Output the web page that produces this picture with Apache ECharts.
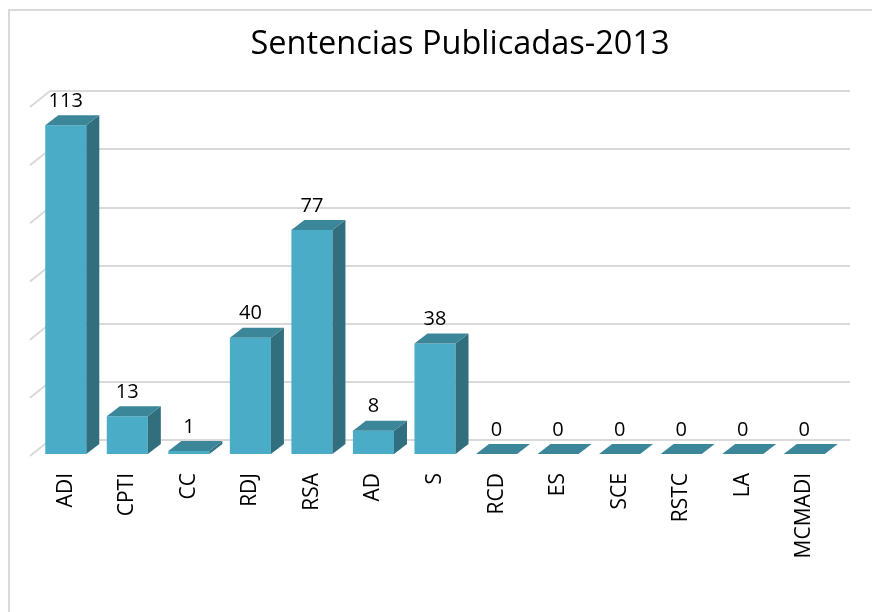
<!DOCTYPE html>
<html>
<head>
<meta charset="utf-8">
<script src="https://cdn.jsdelivr.net/npm/echarts@6/dist/echarts.min.js"></script>
<style>
  html, body { margin: 0; padding: 0; background: #fff; }
  #chart { width: 872px; height: 612px; }
</style>
</head>
<body>
<div id="chart"></div>
<script>
// Sentencias publicadas 2013 - barras 3D estilo Excel
const categories = ['ADI', 'CPTI', 'CC', 'RDJ', 'RSA', 'AD', 'S', 'RCD', 'ES', 'SCE', 'RSTC', 'LA', 'MCMADI'];
const sentencias = [113, 13, 1, 40, 77, 8, 38, 0, 0, 0, 0, 0, 0];
const wallTicks = [0, 20, 40, 60, 80, 100, 120];

const FONT = '"Open Sans", "Noto Sans", sans-serif';
const FRONT = '#4aacc6';
const SIDE = '#316e7e';
const TOP = '#3b8698';
const GRID_LINE = '#d9d9d9';

// bar front face sits in front of the back wall
const FRONT_DX = -15, FRONT_DY = 14;
// bar depth (front -> back)
const DEPTH_DX = 13, DEPTH_DY = -10;

function renderBar(params, api) {
  const v = api.value(1);
  const top = api.coord([api.value(0), v]);
  const base = api.coord([api.value(0), 0]);
  const bw = api.size([1, 0])[0] * 0.667;
  const cx = top[0] + FRONT_DX;
  const yTop = top[1] + FRONT_DY;
  const yBase = base[1] + FRONT_DY;
  const x0 = cx - bw / 2, x1 = cx + bw / 2;
  return {
    type: 'group',
    children: [
      { type: 'rect', shape: { x: x0, y: yTop, width: bw, height: yBase - yTop }, style: { fill: FRONT } },
      { type: 'polygon', shape: { points: [[x1, yTop], [x1 + DEPTH_DX, yTop + DEPTH_DY], [x1 + DEPTH_DX, yBase + DEPTH_DY], [x1, yBase]] }, style: { fill: SIDE } },
      { type: 'polygon', shape: { points: [[x0, yTop], [x1, yTop], [x1 + DEPTH_DX, yTop + DEPTH_DY], [x0 + DEPTH_DX, yTop + DEPTH_DY]] }, style: { fill: TOP } },
      { type: 'text', style: { x: cx, y: yTop + DEPTH_DY - 14, text: String(v), align: 'center', verticalAlign: 'middle', fill: '#000', font: '20px ' + FONT } }
    ]
  };
}

function renderWallEdge(params, api) {
  const p = api.coord([0, api.value(1)]);
  const left = params.coordSys.x;
  return {
    type: 'line',
    shape: { x1: left, y1: p[1], x2: left - 20, y2: p[1] + 16 },
    style: { stroke: GRID_LINE, lineWidth: 2 }
  };
}

const chart = echarts.init(document.getElementById('chart'), null, { renderer: 'canvas' });

chart.setOption({
  backgroundColor: '#fff',
  animation: false,
  title: {
    text: 'Sentencias Publicadas-2013',
    left: 455,
    textAlign: 'center',
    top: 23,
    textStyle: { fontFamily: FONT, fontSize: 32.5, fontWeight: 'normal', color: '#000' }
  },
  graphic: [
    { type: 'rect', shape: { x: 9, y: 10, width: 900, height: 700 }, style: { fill: 'none', stroke: GRID_LINE, lineWidth: 2 }, silent: true }
  ],
  grid: [
    { left: 50, right: 22, top: 91, bottom: 172 },  // back wall
    { left: 35, right: 37, top: 105, bottom: 158 }  // front plane for labels
  ],
  xAxis: [
    { type: 'category', gridIndex: 0, data: categories, axisLine: { show: false }, axisTick: { show: false }, axisLabel: { show: false } },
    {
      type: 'category', gridIndex: 1, data: categories,
      axisLine: { show: false }, axisTick: { show: false },
      axisLabel: { rotate: 90, margin: 19, interval: 0, fontFamily: FONT, fontSize: 21, color: '#000' }
    }
  ],
  yAxis: [
    {
      type: 'value', gridIndex: 0, min: 0, max: 120, interval: 20,
      axisLine: { show: false }, axisTick: { show: false }, axisLabel: { show: false },
      splitLine: { show: true, lineStyle: { color: GRID_LINE, width: 2 } }
    },
    { type: 'value', gridIndex: 1, min: 0, max: 120, show: false }
  ],
  series: [
    {
      type: 'custom',
      name: 'pared',
      xAxisIndex: 0, yAxisIndex: 0,
      renderItem: renderWallEdge,
      data: wallTicks.map(v => [0, v]),
      silent: true,
      z: 1
    },
    {
      type: 'custom',
      name: 'Sentencias',
      xAxisIndex: 0, yAxisIndex: 0,
      renderItem: renderBar,
      data: sentencias.map((v, i) => [i, v]),
      z: 3
    }
  ]
});
</script>
</body>
</html>
